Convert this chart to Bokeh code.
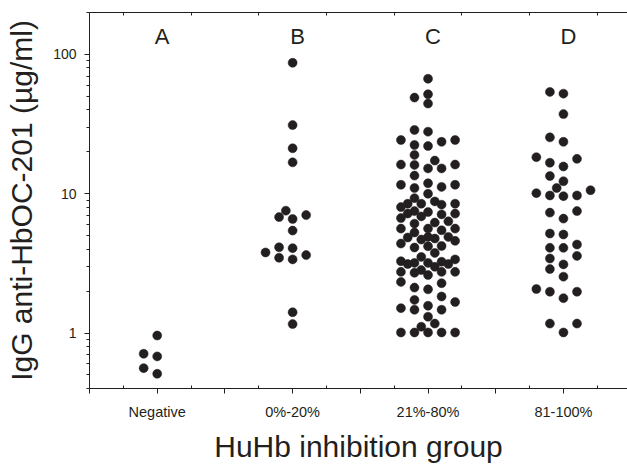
import math
from bokeh.plotting import figure
from bokeh.models import ColumnDataSource, FixedTicker, LinearAxis, Range1d
from bokeh.core.properties import value
from bokeh.embed import file_html
from bokeh.resources import INLINE

# ---------------- data ----------------
groups = ["Negative", "0%-20%", "21%-80%", "81-100%"]
letters = ["A", "B", "C", "D"]

negative = [0.96, 0.71, 0.68, 0.56, 0.51]
low = [87.1, 31.1, 21.2, 16.8, 7.03, 6.80, 7.56, 6.59, 5.44, 4.07, 3.79, 4.13,
       3.63, 3.47, 3.38, 1.41, 1.16]
mid = [66.9, 49.0, 51.8, 44.4,
       28.7, 27.9, 24.3, 24.3, 22.4, 23.6, 22.0,
       19.0, 16.2, 16.2, 15.2, 15.2, 17.3, 16.1,
       13.5, 11.6, 11.6, 11.0, 11.9, 11.2, 10.0,
       9.30, 8.48, 8.48, 8.48, 8.35, 8.81, 8.02,
       7.51, 7.20, 7.20, 6.88, 7.39, 7.11, 6.69,
       6.34, 6.10, 5.62, 5.62, 5.62, 6.21, 5.47,
       5.27, 4.90, 4.90, 4.77, 4.85, 4.69, 4.59,
       4.39, 4.20, 4.11, 4.22, 3.76, 3.52,
       3.28, 3.19, 3.19, 3.13, 3.13, 3.25, 3.38,
       2.83, 2.75, 2.75, 2.75, 2.61, 2.71, 2.99,
       2.28, 2.06, 2.12, 2.33,
       1.83, 1.67, 1.73,
       1.51, 1.47, 1.47, 1.57,
       1.31, 1.11, 1.17,
       1.01, 1.01, 1.01, 1.01, 1.01]
high = [53.8, 52.3, 37.3, 25.4, 23.6, 18.3, 17.8, 15.7, 16.7, 12.3, 13.4, 11.0,
        9.72, 9.72, 10.1, 10.6, 9.61, 7.32, 7.51, 6.63, 5.18, 5.10, 4.09, 4.09,
        4.32, 3.58, 3.43, 3.11, 2.88, 2.54, 2.07, 1.98, 1.98, 1.78, 1.17, 1.17, 1.01]
series = [negative, low, mid, high]

y_major = [1, 10, 100]
y_min, y_max = 0.4, 200
x_min, x_max = 0.5, 4.473

# ---------------- layout ----------------
W, H = 627, 465
BL, BR, BT, BB = 89, 0, 12, 76
FRAME_W = W - BL - BR
FRAME_H = H - BT - BB
px_x = FRAME_W / (x_max - x_min)
px_y = FRAME_H / math.log10(y_max / y_min)
DOT = 9.0
INK = "#231f20"
FONT = "Liberation Sans"


def swarm(vals, center):
    """Simple beeswarm: offsets chosen so that dots do not overlap."""
    order = sorted(range(len(vals)), key=lambda i: vals[i])
    cands = [0, -1, 1, -0.5, 0.5, -2, 2, -1.5, 1.5]
    placed = []
    xs = [0.0] * len(vals)
    for i in order:
        yp = math.log10(vals[i]) * px_y
        best, best_d = 0, -1.0
        for c in cands:
            xp = c * 0.1 * px_x
            dmin = min([math.hypot(xp - a, yp - b) for a, b in placed] or [1e9])
            if dmin >= DOT + 0.3:
                best = c
                break
            if dmin > best_d:
                best_d, best = dmin, c
        placed.append((best * 0.1 * px_x, yp))
        xs[i] = center + best * 0.1
    return xs


xs, ys = [], []
for gi, vals in enumerate(series):
    xs += swarm(vals, gi + 1)
    ys += vals

p = figure(width=W, height=H, output_backend="svg", toolbar_location=None,
           x_range=Range1d(x_min, x_max), y_range=Range1d(y_min, y_max),
           y_axis_type="log", min_border_left=BL, min_border_right=BR,
           min_border_top=BT, min_border_bottom=BB)
p.outline_line_color = None
p.xgrid.visible = False
p.ygrid.visible = False
p.background_fill_color = "white"
p.border_fill_color = "white"

p.scatter(x="x", y="y", source=ColumnDataSource(dict(x=xs, y=ys)),
          size=DOT, fill_color=INK, line_color=INK, line_width=0.5)

# group letters
p.text(x=list(range(1, len(letters) + 1)), y=[135] * len(letters), text=letters,
       text_font=value(FONT), text_font_size="22px", text_color=INK,
       text_align="center", text_baseline="middle", x_offset=5)

# x axis
xa = p.xaxis[0]
half = [0.5 + 0.5 * k for k in range(9)]
quarter = [0.75 + 0.5 * k for k in range(8)]
xa.ticker = FixedTicker(ticks=half, minor_ticks=quarter)
over = {t: "" for t in half}
for i, g in enumerate(groups):
    over[i + 1] = g
xa.major_label_overrides = over
xa.major_tick_out = 5
xa.major_tick_in = 0
xa.minor_tick_out = 0
xa.minor_tick_in = 3
xa.major_label_standoff = 10
xa.major_label_text_font = FONT
xa.major_label_text_font_size = "14.5px"
xa.major_label_text_color = INK
xa.axis_label = "HuHb inhibition group"
xa.axis_label_text_font = FONT
xa.axis_label_text_font_size = "30px"
xa.axis_label_text_font_style = "normal"
xa.axis_label_text_color = INK
xa.axis_label_standoff = 7
xa.axis_line_color = INK
xa.major_tick_line_color = INK
xa.minor_tick_line_color = INK

# y axis
ya = p.yaxis[0]
minor = [m * 10 ** e for e in (-1, 0, 1, 2) for m in range(2, 10)
         if y_min <= m * 10 ** e <= y_max]
ya.ticker = FixedTicker(ticks=y_major, minor_ticks=minor)
ya.major_label_overrides = {t: str(t) for t in y_major}
ya.major_tick_out = 5
ya.major_tick_in = 0
ya.minor_tick_out = 3
ya.minor_tick_in = 0
ya.major_label_standoff = 8
ya.major_label_text_font = FONT
ya.major_label_text_font_size = "14px"
ya.major_label_text_color = INK
ya.axis_label = "IgG anti-HbOC-201 (µg/ml)"
ya.axis_label_text_font = FONT
ya.axis_label_text_font_size = "30px"
ya.axis_label_text_font_style = "normal"
ya.axis_label_text_color = INK
ya.axis_label_standoff = 12
ya.axis_line_color = INK
ya.major_tick_line_color = INK
ya.minor_tick_line_color = INK

# top axis (frame line with inward ticks)
top = LinearAxis(ticker=FixedTicker(ticks=quarter, minor_ticks=[]),
                 major_label_overrides={t: "" for t in quarter},
                 major_tick_in=3, major_tick_out=0, major_label_standoff=0,
                 major_label_text_font_size="0px",
                 axis_line_color=INK, major_tick_line_color=INK)
p.add_layout(top, "above")

open("out.html", "w").write(file_html(p, INLINE))
